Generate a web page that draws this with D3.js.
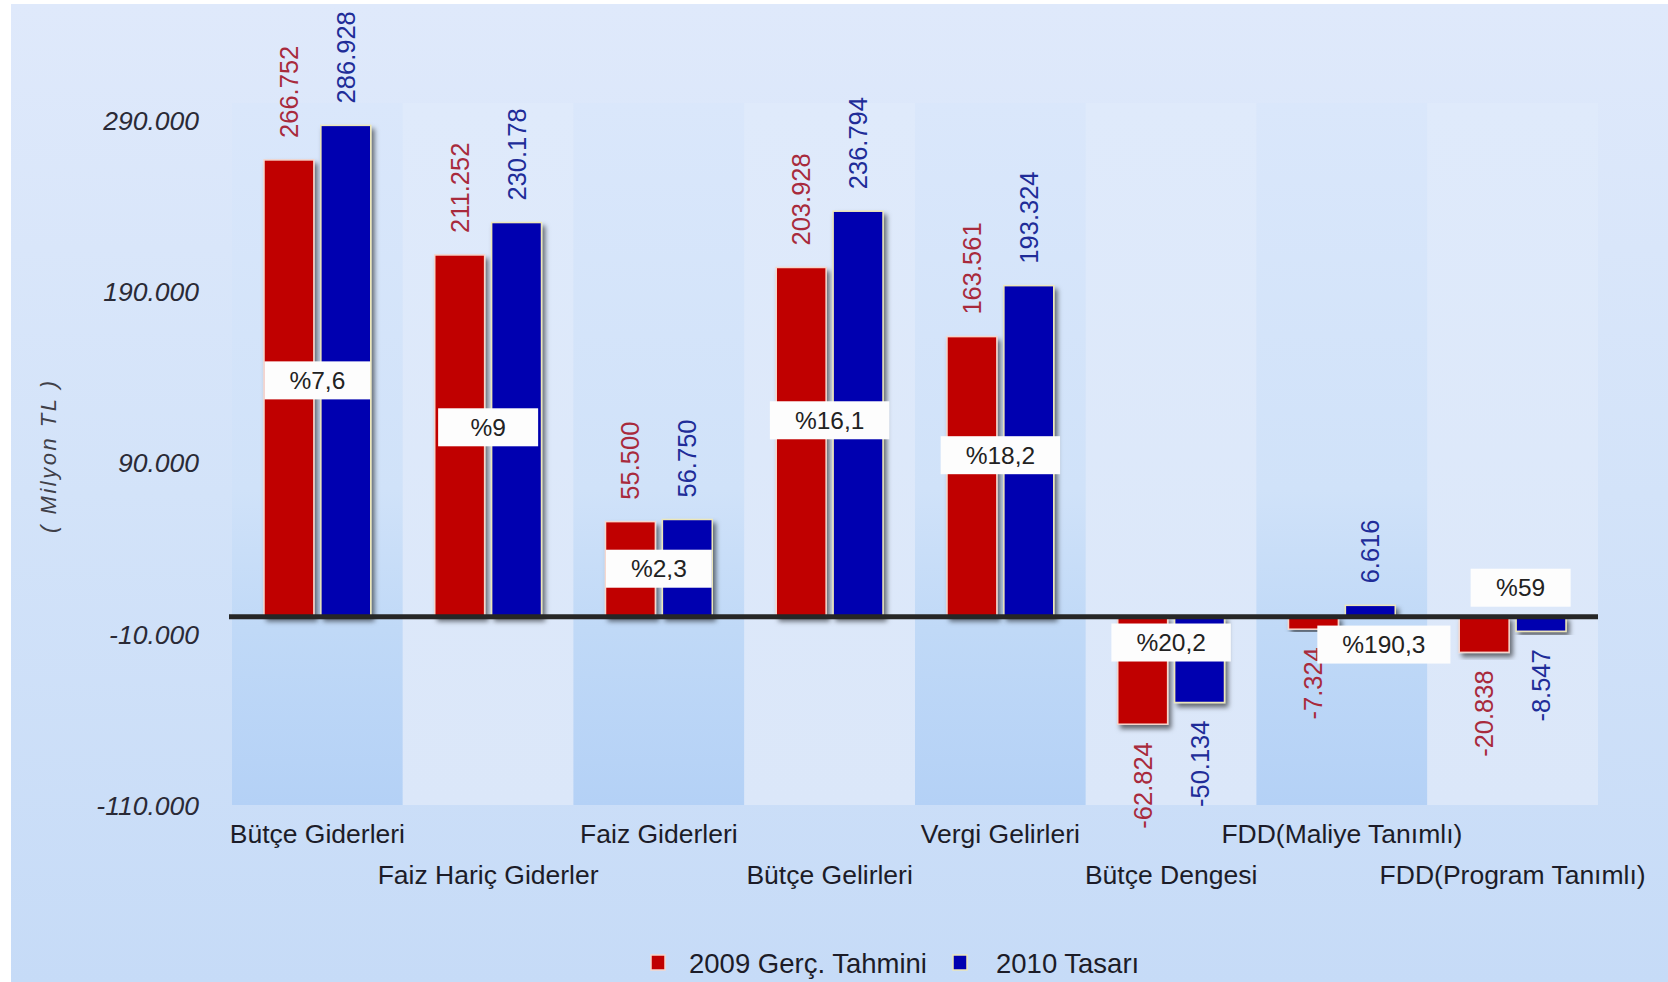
<!DOCTYPE html>
<html>
<head>
<meta charset="utf-8">
<script src="https://cdn.jsdelivr.net/npm/d3@7"></script>
<style>
  html, body { margin: 0; padding: 0; background: #ffffff; }
  svg { display: block; }
  text { font-family: "Liberation Sans", Arial, sans-serif; }
</style>
</head>
<body>
<svg id="chart" width="1668" height="982"></svg>
<script>
// ---- data ----
const categories = [
  "Bütçe Giderleri", "Faiz Hariç Giderler", "Faiz Giderleri", "Bütçe Gelirleri",
  "Vergi Gelirleri", "Bütçe Dengesi", "FDD(Maliye Tanımlı)", "FDD(Program Tanımlı)"
];
const seriesNames = ["2009 Gerç. Tahmini", "2010 Tasarı"];
const values2009 = [266752, 211252, 55500, 203928, 163561, -62824, -7324, -20838];
const values2010 = [286928, 230178, 56750, 236794, 193324, -50134, 6616, -8547];
const pctLabels = ["%7,6", "%9", "%2,3", "%16,1", "%18,2", "%20,2", "%190,3", "%59"];
const pctAt = [138000, 110600, 28000, 114700, 94300, -15100, -16300, 16900];
const yTicks = [-110000, -10000, 90000, 190000, 290000];
const yTitle = "( Milyon TL )";

// ---- drawing ----
const W = 1668, H = 982;
const svg = d3.select("#chart");
const defs = svg.append("defs");

const loc = d3.formatLocale({decimal: ",", thousands: ".", grouping: [3], currency: ["", " TL"], minus: "-"});
const fmt = loc.format(",d");
const tickFmt = loc.format(",.0f");

const bg = defs.append("linearGradient").attr("id", "bg").attr("x1", 0).attr("y1", 0).attr("x2", 0).attr("y2", 1);
bg.append("stop").attr("offset", "0%").attr("stop-color", "#dfe9fb");
bg.append("stop").attr("offset", "50%").attr("stop-color", "#d3e3f9");
bg.append("stop").attr("offset", "100%").attr("stop-color", "#c6dbf7");

const bandDark = defs.append("linearGradient").attr("id", "bandDark").attr("x1", 0).attr("y1", 0).attr("x2", 0).attr("y2", 1);
bandDark.append("stop").attr("offset", "0%").attr("stop-color", "#dae7fb");
bandDark.append("stop").attr("offset", "55%").attr("stop-color", "#d0e2f9");
bandDark.append("stop").attr("offset", "75%").attr("stop-color", "#c0d9f7");
bandDark.append("stop").attr("offset", "100%").attr("stop-color", "#b4d1f6");

const bandLight = defs.append("linearGradient").attr("id", "bandLight").attr("x1", 0).attr("y1", 0).attr("x2", 0).attr("y2", 1);
bandLight.append("stop").attr("offset", "0%").attr("stop-color", "#dfeafb");
bandLight.append("stop").attr("offset", "100%").attr("stop-color", "#dbe7f9");

const sh = defs.append("filter").attr("id", "shadow").attr("x", "-30%").attr("y", "-10%").attr("width", "160%").attr("height", "130%");
sh.append("feDropShadow").attr("dx", 3).attr("dy", 4).attr("stdDeviation", 2.5)
  .attr("flood-color", "#000").attr("flood-opacity", 0.55);

svg.append("rect").attr("width", W).attr("height", H).attr("fill", "#ffffff");
svg.append("rect").attr("x", 11).attr("y", 4).attr("width", W - 11).attr("height", H - 4).attr("fill", "url(#bg)");

const x0 = d3.scaleBand().domain(categories).range([232, 1598]).padding(0);
const x1 = d3.scaleBand().domain(seriesNames).range([32, x0.bandwidth() - 32]).paddingInner(0.123);
const y = d3.scaleLinear().domain([-110000, 300000]).range([805, 103]);

// bands
svg.append("g").selectAll("rect").data(categories).join("rect")
  .attr("x", d => x0(d)).attr("width", x0.bandwidth())
  .attr("y", y(300000)).attr("height", y(-110000) - y(300000))
  .attr("fill", (d, i) => i % 2 === 0 ? "url(#bandDark)" : "url(#bandLight)");

// y axis labels
const yAxis = d3.axisLeft(y).tickValues(yTicks).tickFormat(tickFmt).tickSize(0).tickPadding(0);
const gy = svg.append("g").attr("transform", "translate(199,0)").call(yAxis);
gy.select(".domain").remove();
gy.selectAll("text").attr("font-size", 26.5).attr("font-style", "italic").attr("fill", "#2a2a36")
  .attr("font-family", "Liberation Sans, Arial, sans-serif").attr("dy", "0.35em");

svg.append("text").attr("transform", `translate(48,${y(94000)}) rotate(-90)`)
  .attr("text-anchor", "middle").attr("dominant-baseline", "central")
  .attr("font-size", 22).attr("font-style", "italic").attr("fill", "#404048")
  .attr("letter-spacing", 2.5).text(yTitle);

// bars
const rows = categories.map((c, i) => ({c, i, vals: [values2009[i], values2010[i]]}));
const colors = ["#c00000", "#0000b0"];
const strokes = ["#f6d6cc", "#ece6b8"];
const labelColors = ["#a82a3c", "#202c98"];

const groups = svg.append("g").selectAll("g").data(rows).join("g")
  .attr("transform", d => `translate(${x0(d.c)},0)`);

groups.selectAll("rect.bar").data(d => d.vals.map((v, k) => ({v, k, s: seriesNames[k]}))).join("rect")
  .attr("class", "bar")
  .attr("x", d => x1(d.s)).attr("width", x1.bandwidth())
  .attr("y", d => y(Math.max(0, d.v))).attr("height", d => Math.abs(y(d.v) - y(0)))
  .attr("fill", d => colors[d.k]).attr("stroke", d => strokes[d.k]).attr("stroke-width", 1.5)
  .attr("filter", "url(#shadow)");

// zero line
svg.append("line").attr("x1", 229).attr("x2", 1598).attr("y1", y(0)).attr("y2", y(0))
  .attr("stroke", "#262626").attr("stroke-width", 5);

// value labels
groups.selectAll("text.val").data(d => d.vals.map((v, k) => ({v, k, s: seriesNames[k]}))).join("text")
  .attr("class", "val")
  .attr("transform", d => {
    const cx = x1(d.s) + x1.bandwidth() / 2;
    const yy = d.v >= 0 ? y(d.v) - 22 : y(d.v) + 18;
    return `translate(${cx},${yy}) rotate(-90)`;
  })
  .attr("text-anchor", d => d.v >= 0 ? "start" : "end")
  .attr("dominant-baseline", "central")
  .attr("font-size", 25.5).attr("fill", d => labelColors[d.k])
  .text(d => fmt(d.v));

// percentage boxes
const pctShift = [0, 0, 0, 0, 0, 0, 42, 8];
const pg = svg.append("g").selectAll("g").data(rows).join("g")
  .attr("transform", d => `translate(${x0(d.c) + x0.bandwidth() / 2 + pctShift[d.i]},${y(pctAt[d.i])})`);
pg.append("text").attr("class", "pct").attr("text-anchor", "middle").attr("dominant-baseline", "central")
  .attr("font-size", 24.5).attr("fill", "#222").text(d => pctLabels[d.i]);
pg.each(function() {
  const g = d3.select(this);
  const bb = g.select("text").node().getBBox();
  const w = Math.max(100, bb.width + 50);
  g.insert("rect", "text").attr("x", -w / 2).attr("y", -19).attr("width", w).attr("height", 38)
    .attr("fill", "#fdfdfd");
});

// category labels (staggered)
svg.append("g").selectAll("text").data(categories).join("text")
  .attr("x", d => x0(d) + x0.bandwidth() / 2)
  .attr("y", (d, i) => i % 2 === 0 ? 843 : 884)
  .attr("text-anchor", "middle").attr("font-size", 26.5).attr("fill", "#1c1c28")
  .text(d => d);

// legend
const legX = [651, 953];
const leg = svg.append("g").selectAll("g").data(seriesNames).join("g")
  .attr("transform", (d, i) => `translate(${legX[i]},963)`);
leg.append("rect").attr("x", 0).attr("y", -8).attr("width", 14).attr("height", 15)
  .attr("fill", (d, i) => colors[i]).attr("stroke", (d, i) => strokes[i]).attr("stroke-width", 1.5);
leg.append("text").attr("x", (d, i) => i === 0 ? 38 : 43).attr("y", 0).attr("dominant-baseline", "central")
  .attr("font-size", 27.5).attr("fill", "#1c1c28").text(d => d);
</script>
</body>
</html>
